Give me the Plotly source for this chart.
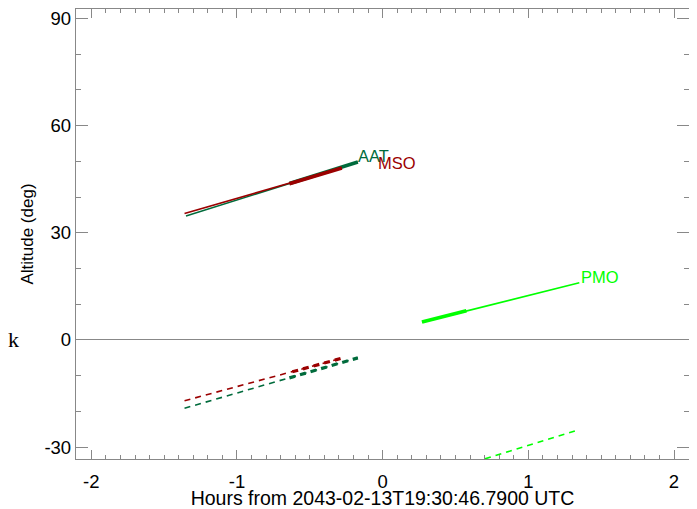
import plotly.graph_objects as go

# Observatory tracks (hours from reference time, altitude in degrees)
names = ["AAT", "MSO", "PMO"]
colors = ["#006B3C", "#9B0000", "#00FF00"]
# full solid tracks: start/end
solid_x = [[-1.35, -0.17], [-1.36, -0.28], [0.27, 1.35]]
solid_y = [[34.7, 49.8], [35.4, 48.1], [5.0, 16.0]]
# thick (observable) part of solid track
thick_x = [[-0.64, -0.17], [-0.64, -0.28], [0.27, 0.575]]
thick_y = [[43.8, 49.8], [43.7, 48.1], [5.0, 8.2]]
# dashed tracks
dash_x = [[-1.36, -0.17], [-1.36, -0.28], [0.27, 1.35]]
dash_y = [[-19.1, -5.0], [-17.0, -5.1], [-38.7, -25.1]]
dthick_x = [[-0.64, -0.17], [-0.62, -0.28], [0.27, 0.575]]
dthick_y = [[-10.6, -5.0], [-8.9, -5.1], [-38.7, -34.9]]
# label positions
label_x = [-0.17, -0.03, 1.36]
label_y = [51.6, 49.6, 17.6]
# tick labels
x_ticks = [-2, -1, 0, 1, 2]
x_ticktext = ["-2", "-1", "0", "1", "2"]
y_ticks = [-30, 0, 30, 60, 90]
y_ticktext = ["-30", "0", "30", "60", "90"]

fig = go.Figure()
for i in range(3):
    c = colors[i]
    fig.add_trace(go.Scatter(x=dash_x[i], y=dash_y[i], mode="lines",
                             line=dict(color=c, width=1.6, dash="6px,5px")))
    fig.add_trace(go.Scatter(x=dthick_x[i], y=dthick_y[i], mode="lines",
                             line=dict(color=c, width=3.2, dash="6px,5px")))
    fig.add_trace(go.Scatter(x=solid_x[i], y=solid_y[i], mode="lines",
                             line=dict(color=c, width=1.6)))
    fig.add_trace(go.Scatter(x=thick_x[i], y=thick_y[i], mode="lines",
                             line=dict(color=c, width=3.6)))
    fig.add_annotation(x=label_x[i], y=label_y[i], text=names[i], showarrow=False,
                       xanchor="left", yanchor="middle", xshift=-2,
                       font=dict(family="Liberation Sans, Arial", size=16.5, color=c))

fig.add_annotation(x=0.0, xref="paper", xshift=-70, y=0, yref="y", text="k",
                   showarrow=False, xanchor="left", yanchor="middle",
                   font=dict(family="Liberation Serif, DejaVu Serif, serif", size=22,
                             color="black"))

axcol = "#888888"
fig.update_layout(
    width=689, height=501,
    margin=dict(l=68, r=8, t=1, b=50),
    paper_bgcolor="white", plot_bgcolor="white",
    showlegend=False,
    font=dict(family="Liberation Sans, Arial", size=18, color="black"),
    xaxis=dict(range=[-2.105, 2.103], tickvals=x_ticks, ticktext=x_ticktext,
               automargin=False, ticklabeloverflow="allow",
               ticks="inside", ticklen=9, tickcolor=axcol, tickwidth=1,
               minor=dict(dtick=0.1, ticks="inside", ticklen=4, tickcolor=axcol),
               showgrid=False, zeroline=False, ticklabelstandoff=6,
               showline=True, linecolor=axcol, linewidth=1.3, mirror="ticks",
               title=dict(text="Hours from 2043-02-13T19:30:46.7900 UTC", standoff=2,
                          font=dict(size=19.5)),
               tickfont=dict(size=18.5)),
    yaxis=dict(range=[-33.3, 92.6], tickvals=y_ticks, ticktext=y_ticktext,
               ticks="inside", ticklen=12, tickcolor=axcol, tickwidth=1,
               automargin=False, ticklabeloverflow="allow",
               minor=dict(dtick=10, ticks="inside", ticklen=5, tickcolor=axcol),
               showgrid=False, zeroline=True, zerolinecolor=axcol, zerolinewidth=1,
               showline=True, linecolor=axcol, linewidth=1.3, mirror="ticks",
               title=dict(text="Altitude (deg)", standoff=6, font=dict(size=17)),
               tickfont=dict(size=18.5)),
)

fig.write_html("out.html")
